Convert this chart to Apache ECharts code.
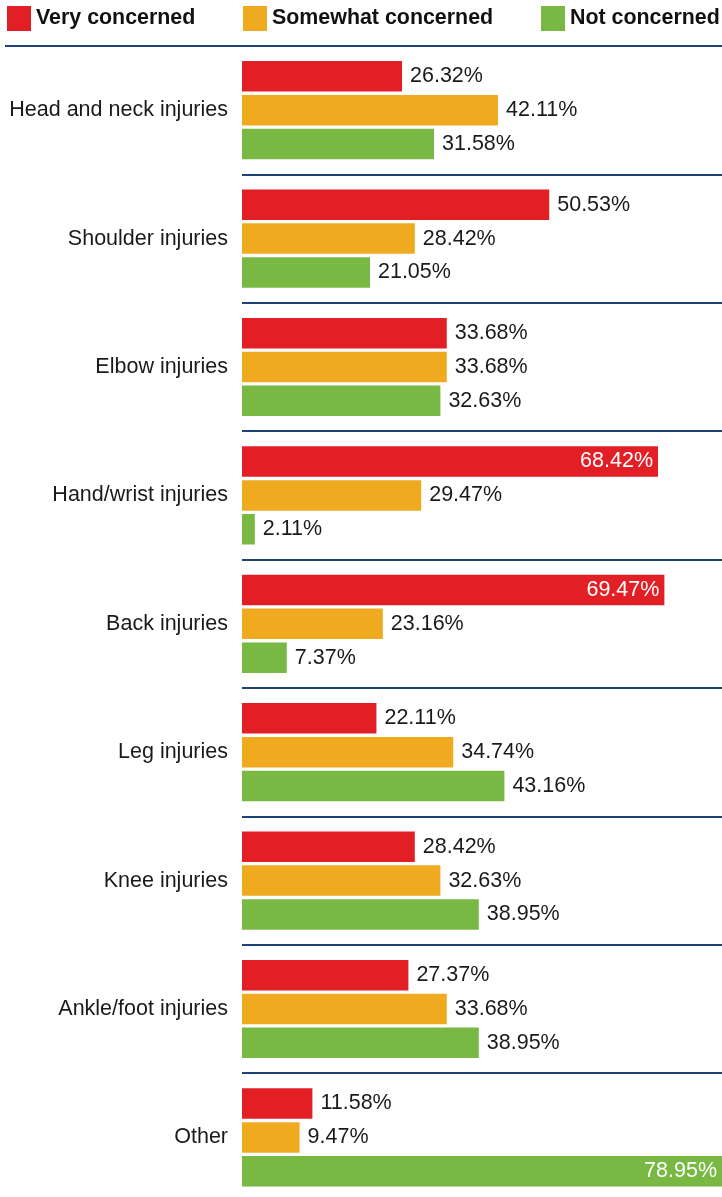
<!DOCTYPE html>
<html>
<head>
<meta charset="utf-8">
<script src="https://cdn.jsdelivr.net/npm/echarts@6/dist/echarts.min.js"></script>
<style>html,body{margin:0;padding:0;background:#fff;}#c{width:722px;height:1197px;}</style>
</head>
<body>
<div id="c"></div>
<script>
var categories = ['Head and neck injuries','Shoulder injuries','Elbow injuries','Hand/wrist injuries','Back injuries','Leg injuries','Knee injuries','Ankle/foot injuries','Other'];
var seriesNames = ['Very concerned','Somewhat concerned','Not concerned'];
var veryConcerned = [26.32, 50.53, 33.68, 68.42, 69.47, 22.11, 28.42, 27.37, 11.58];
var somewhatConcerned = [42.11, 28.42, 33.68, 29.47, 23.16, 34.74, 32.63, 33.68, 9.47];
var notConcerned = [31.58, 21.05, 32.63, 2.11, 7.37, 43.16, 38.95, 38.95, 78.95];
var colors = ['#e31f26', '#efaa1f', '#79b943'];

var FONT = '"Liberation Sans", Arial, Helvetica, sans-serif';
function makeData(vals) {
  return vals.map(function (v) {
    if (v > 60) {
      return { value: v, label: { position: 'insideRight', color: '#ffffff', distance: 5 } };
    }
    return { value: v };
  });
}
var allSeries = [veryConcerned, somewhatConcerned, notConcerned].map(function (vals, i) {
  return {
    name: seriesNames[i],
    type: 'bar',
    data: makeData(vals),
    barWidth: 30.5,
    barGap: '11%',
    itemStyle: { color: colors[i] },
    label: {
      show: true,
      position: 'right',
      distance: 8,
      color: '#1a1a1a',
      fontFamily: FONT,
      fontSize: 21.5,
      formatter: function (p) { return p.value.toFixed(2) + '%'; }
    },
    animation: false
  };
});

var legendLefts = [7, 243, 541];
var legends = seriesNames.map(function (name, i) {
  return {
    top: 6,
    left: legendLefts[i],
    padding: 0,
    itemWidth: 24,
    itemHeight: 25,
    itemGap: 4,
    icon: 'rect',
    selectedMode: false,
    textStyle: { fontFamily: FONT, fontWeight: 'bold', fontSize: 21.4, color: '#111', padding: [4, 0, 0, 0] },
    data: [name]
  };
});

var chart = echarts.init(document.getElementById('c'), null, { renderer: 'canvas' });
chart.setOption({
  backgroundColor: '#ffffff',
  animation: false,
  legend: legends,
  graphic: [{
    type: 'line',
    shape: { x1: 5, y1: 46, x2: 722, y2: 46 },
    style: { stroke: '#1d4274', lineWidth: 2 }
  }],
  grid: { left: 242, top: 46, width: 608, height: 1155.6, containLabel: false, outerBoundsMode: 'none' },
  xAxis: { type: 'value', min: 0, max: 100, show: false },
  yAxis: {
    type: 'category',
    data: categories,
    inverse: true,
    axisLine: { show: false },
    axisTick: { show: false },
    splitLine: { show: true, lineStyle: { color: '#1d4274', width: 2 } },
    axisLabel: { fontFamily: FONT, fontSize: 21.5, color: '#1a1a1a', margin: 14 }
  },
  series: allSeries
});
</script>
</body>
</html>
